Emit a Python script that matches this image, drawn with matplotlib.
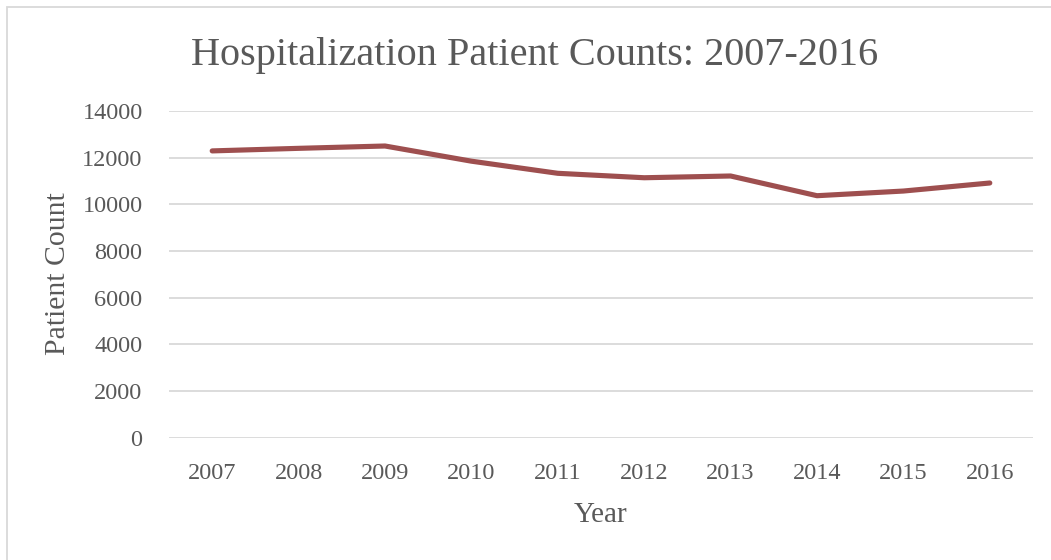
import matplotlib
matplotlib.use("Agg")
import matplotlib.pyplot as plt
from matplotlib.patches import Rectangle

years = ["2007", "2008", "2009", "2010", "2011", "2012", "2013", "2014", "2015", "2016"]
patients = [12290, 12400, 12500, 11850, 11330, 11140, 11215, 10370, 10570, 10915]
yticks = [0, 2000, 4000, 6000, 8000, 10000, 12000, 14000]

TEXT = "#595959"
GRID = "#D9D9D9"
LINE = "#9E4F4F"

plt.rcParams["font.family"] = ["Liberation Serif", "DejaVu Serif"]

W, H = 1051, 560
fig = plt.figure(figsize=(W / 100, H / 100), dpi=100)
ax = fig.add_axes([169 / W, 1 - 437.7 / H, (1033 - 169) / W, (437.7 - 111) / H])

x = list(range(len(years)))
ax.plot(x, patients, color=LINE, linewidth=3.7, solid_capstyle="round", solid_joinstyle="round")

ax.set_xlim(-0.5, len(years) - 0.5)
ax.set_ylim(0, 14000)
ax.set_yticks(yticks)
ax.set_yticklabels([str(v) for v in yticks])
ax.set_xticks(x)
ax.set_xticklabels(years)
ax.grid(True, axis="y", color=GRID, linewidth=1.3)
ax.set_axisbelow(True)
for s in ax.spines.values():
    s.set_visible(False)
ax.tick_params(length=0, colors=TEXT, labelsize=17.5)
ax.tick_params(axis="y", pad=19)
ax.tick_params(axis="x", pad=18)

fig.text(535 / W, 1 - 55 / H, "Hospitalization Patient Counts: 2007-2016",
         ha="center", va="center", fontsize=29, color=TEXT)
fig.text(58 / W, 1 - 274 / H, "Patient Count", rotation=90,
         ha="center", va="center", fontsize=21.4, color=TEXT)
fig.text(601 / W, 1 - 515 / H, "Year", ha="center", va="center", fontsize=21, color=TEXT)

fig.patches.append(Rectangle((7 / W, -0.1), 1.1, 1.1 - 7 / H, transform=fig.transFigure,
                             fill=False, edgecolor=GRID, linewidth=1.3))

fig.savefig("out.png", dpi=100)
